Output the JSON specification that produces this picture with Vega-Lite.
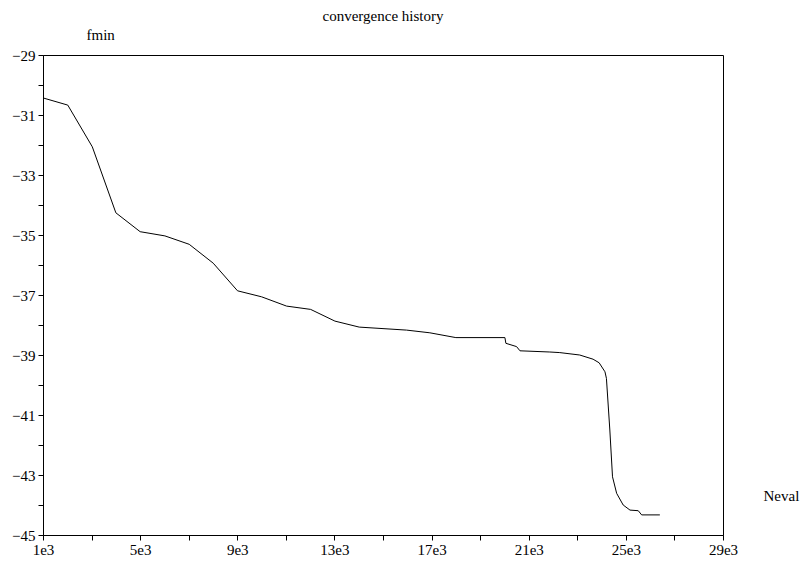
{
  "$schema": "https://vega.github.io/schema/vega-lite/v6.json",
  "autosize": "none",
  "padding": {"left": 43, "top": 55, "right": 77, "bottom": 27},
  "width": 680,
  "height": 480,
  "background": "white",
  "title": {"text": "convergence history", "font": "Liberation Serif", "fontSize": 15, "fontWeight": "normal", "color": "black", "anchor": "middle", "frame": "group", "baseline": "alphabetic", "offset": -9},
  "config": {
    "view": {"stroke": "black", "strokeWidth": 1},
    "axis": {"labelFont": "Liberation Serif", "titleFont": "Liberation Serif", "labelFontSize": 15, "titleFontSize": 15, "titleFontWeight": "normal", "labelColor": "black", "titleColor": "black", "domainColor": "black", "tickColor": "black", "tickSize": 5, "grid": false, "labelOverlap": false, "labelFlush": false}
  },
  "data": {"values": [
    {"neval": 1040, "fmin": -30.44},
    {"neval": 2020, "fmin": -30.67},
    {"neval": 3030, "fmin": -32.06},
    {"neval": 4000, "fmin": -34.26},
    {"neval": 5000, "fmin": -34.89},
    {"neval": 6020, "fmin": -35.03},
    {"neval": 7020, "fmin": -35.31},
    {"neval": 8010, "fmin": -35.94},
    {"neval": 9010, "fmin": -36.86},
    {"neval": 10000, "fmin": -37.06},
    {"neval": 11030, "fmin": -37.37},
    {"neval": 12020, "fmin": -37.48},
    {"neval": 13020, "fmin": -37.87},
    {"neval": 14020, "fmin": -38.07},
    {"neval": 15970, "fmin": -38.17},
    {"neval": 16930, "fmin": -38.26},
    {"neval": 18000, "fmin": -38.42},
    {"neval": 20020, "fmin": -38.42},
    {"neval": 20060, "fmin": -38.61},
    {"neval": 20500, "fmin": -38.72},
    {"neval": 20640, "fmin": -38.86},
    {"neval": 21870, "fmin": -38.9},
    {"neval": 22280, "fmin": -38.92},
    {"neval": 23100, "fmin": -39.0},
    {"neval": 23650, "fmin": -39.14},
    {"neval": 23900, "fmin": -39.26},
    {"neval": 24140, "fmin": -39.56},
    {"neval": 24200, "fmin": -39.78},
    {"neval": 24340, "fmin": -41.5},
    {"neval": 24450, "fmin": -43.06},
    {"neval": 24620, "fmin": -43.61},
    {"neval": 24890, "fmin": -44.0},
    {"neval": 25170, "fmin": -44.17},
    {"neval": 25510, "fmin": -44.19},
    {"neval": 25650, "fmin": -44.33},
    {"neval": 26400, "fmin": -44.33}
  ]},
  "mark": {"type": "line", "color": "black", "strokeWidth": 1},
  "encoding": {
    "x": {"field": "neval", "type": "quantitative", "scale": {"domain": [1000, 29000], "nice": false, "zero": false},
      "axis": {"title": "Neval", "values": [1000, 3000, 5000, 7000, 9000, 11000, 13000, 15000, 17000, 19000, 21000, 23000, 25000, 27000, 29000],
        "labelExpr": "(datum.value - 1000) % 4000 == 0 ? (datum.value / 1000) + 'e3' : ''", "labelPadding": 2,
        "titleX": 720, "titleY": -35, "titleAlign": "left", "titleBaseline": "alphabetic", "titleAnchor": null}},
    "y": {"field": "fmin", "type": "quantitative", "scale": {"domain": [-45, -29], "nice": false, "zero": false},
      "axis": {"title": "fmin", "values": [-45, -44, -43, -42, -41, -40, -39, -38, -37, -36, -35, -34, -33, -32, -31, -30, -29],
        "labelExpr": "datum.value % 2 != 0 ? format(datum.value, 'd') : ''", "labelPadding": 3,
        "titleAngle": 0, "titleX": 43, "titleY": -16, "titleAlign": "left", "titleBaseline": "alphabetic", "titleAnchor": null}}
  }
}
